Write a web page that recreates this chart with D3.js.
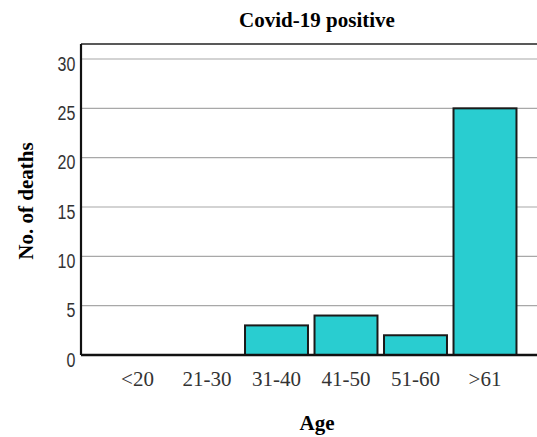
<!DOCTYPE html>
<html>
<head>
<meta charset="utf-8">
<script src="https://cdn.jsdelivr.net/npm/d3@7"></script>
<style>
  body { margin: 0; background: #fff; }
  svg { display: block; }
</style>
</head>
<body>
<div id="chart"></div>
<script>
// data
var ageGroups = ['<20', '21-30', '31-40', '41-50', '51-60', '>61'];
var deaths = [0, 0, 3, 4, 2, 25];
var yTicks = [0, 5, 10, 15, 20, 25, 30];

var w = 537, h = 437;
// plot box (note: "top" is reserved on window)
var plotLeft = 81, plotTop = 44, plotRight = 537, plotBottom = 355;

var svg = d3.select('#chart').append('svg')
  .attr('width', w)
  .attr('height', h);

var yScale = d3.scaleLinear()
  .domain([0, 30])
  .range([plotBottom, 59]);

var xScale = d3.scaleBand()
  .domain(ageGroups)
  .range([102.75, 519.75])
  .paddingInner(0.094)
  .paddingOuter(0.047);

// gridlines
svg.append('g')
  .selectAll('line')
  .data(yTicks.filter(function(d) { return d > 0; }))
  .enter()
  .append('line')
  .attr('x1', plotLeft)
  .attr('x2', plotRight)
  .attr('y1', function(d) { return yScale(d); })
  .attr('y2', function(d) { return yScale(d); })
  .attr('stroke', '#a8a8a8')
  .attr('stroke-width', 1.2);

// top frame line
svg.append('line')
  .attr('x1', plotLeft).attr('x2', plotRight)
  .attr('y1', plotTop).attr('y2', plotTop)
  .attr('stroke', '#222')
  .attr('stroke-width', 1.6);

// bars
svg.selectAll('rect.bar')
  .data(deaths)
  .enter()
  .append('rect')
  .attr('class', 'bar')
  .attr('x', function(d, i) { return xScale(ageGroups[i]); })
  .attr('y', function(d) { return yScale(d); })
  .attr('width', xScale.bandwidth())
  .attr('height', function(d) { return plotBottom - yScale(d); })
  .attr('fill', '#29cdd0')
  .attr('stroke', '#1a1a1a')
  .attr('stroke-width', 2)
  .style('display', function(d) { return d > 0 ? null : 'none'; });

// y axis
var yAxis = d3.axisLeft(yScale)
  .tickValues(yTicks)
  .tickSize(0)
  .tickPadding(7)
  .tickFormat(d3.format('d'));

var gy = svg.append('g')
  .attr('transform', 'translate(' + plotLeft + ',0)')
  .call(yAxis);
gy.select('.domain')
  .attr('d', 'M0,' + plotTop + 'V' + plotBottom)
  .attr('stroke', '#111')
  .attr('stroke-width', 2.2);
// narrow-looking digits
gy.selectAll('text')
  .attr('dy', '0.55em')
  .attr('transform', 'scale(0.8,1)')
  .style('font-family', '"Liberation Sans", Arial, sans-serif')
  .style('font-size', '20px')
  .style('fill', '#333');

// x axis
var xAxis = d3.axisBottom(xScale).tickSize(0).tickPadding(16);
var gx = svg.append('g')
  .attr('transform', 'translate(0,' + plotBottom + ')')
  .call(xAxis);
gx.select('.domain')
  .attr('d', 'M' + plotLeft + ',0H' + plotRight)
  .attr('stroke', '#111')
  .attr('stroke-width', 2.6);
gx.selectAll('text')
  .style('font-family', '"Liberation Serif", "Times New Roman", serif')
  .style('font-size', '21px')
  .style('fill', '#333');

// title and axis labels
var boldSerif = '"Liberation Serif", "Times New Roman", serif';

svg.append('text')
  .attr('x', 317)
  .attr('y', 27)
  .attr('text-anchor', 'middle')
  .style('font-family', boldSerif)
  .style('font-weight', 'bold')
  .style('font-size', '21px')
  .text('Covid-19 positive');

svg.append('text')
  .attr('x', 317)
  .attr('y', 430)
  .attr('text-anchor', 'middle')
  .style('font-family', boldSerif)
  .style('font-weight', 'bold')
  .style('font-size', '21px')
  .text('Age');

svg.append('text')
  .attr('transform', 'translate(33,201) rotate(-90)')
  .attr('text-anchor', 'middle')
  .style('font-family', boldSerif)
  .style('font-weight', 'bold')
  .style('font-size', '21px')
  .text('No. of deaths');
</script>
</body>
</html>
